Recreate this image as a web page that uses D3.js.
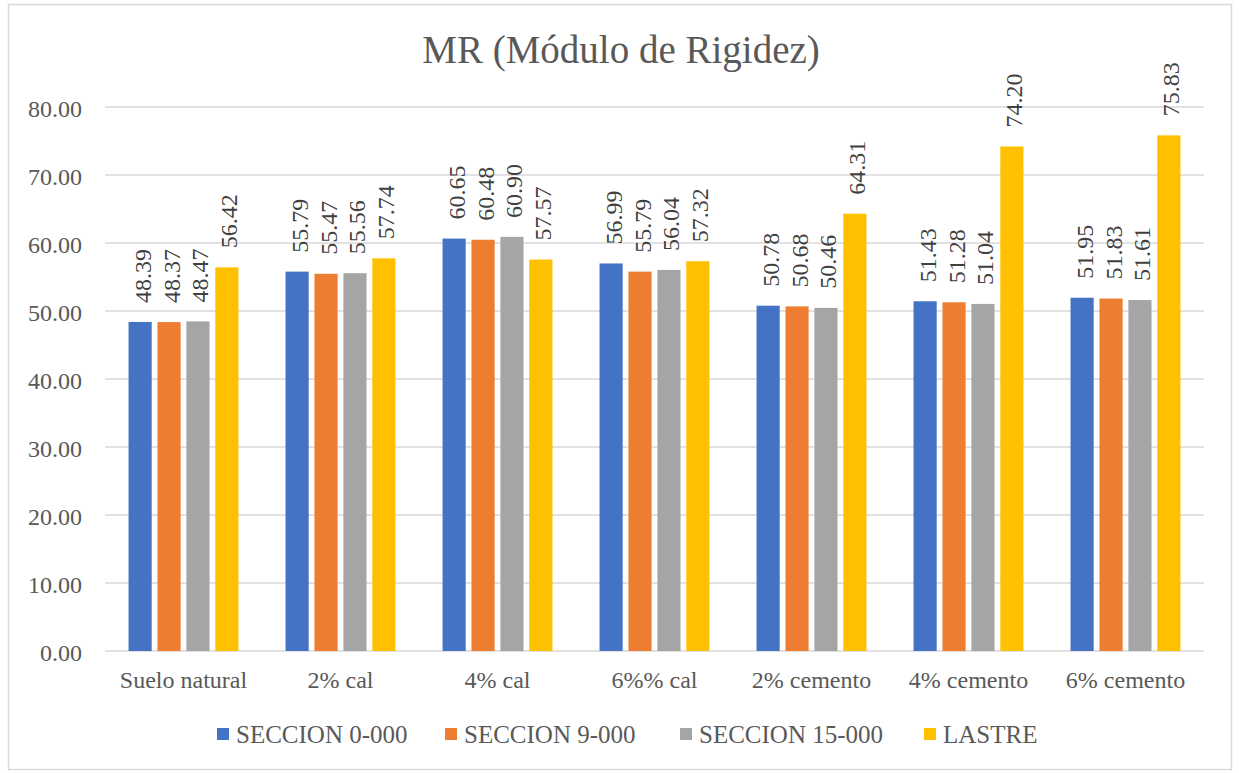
<!DOCTYPE html>
<html><head><meta charset="utf-8">
<script src="https://cdn.jsdelivr.net/npm/d3@7"></script>
<style>body{margin:0;background:#fff}svg{display:block}</style>
</head><body>
<svg id="c" width="1239" height="773"></svg>
<script>
const categories = ["Suelo natural","2% cal","4% cal","6%% cal","2% cemento","4% cemento","6% cemento"];
const seriesNames = ["SECCION 0-000","SECCION 9-000","SECCION 15-000","LASTRE"];
const seccion0 = [48.39,55.79,60.65,56.99,50.78,51.43,51.95];
const seccion9 = [48.37,55.47,60.48,55.79,50.68,51.28,51.83];
const seccion15 = [48.47,55.56,60.90,56.04,50.46,51.04,51.61];
const lastre = [56.42,57.74,57.57,57.32,64.31,74.20,75.83];
const yTicks = [0,10,20,30,40,50,60,70,80];
const colors = ["#4472C4","#ED7D31","#A5A5A5","#FFC000"];
const series = [seccion0,seccion9,seccion15,lastre];

const svg = d3.select("#c");
const font = "'Liberation Serif','Times New Roman',serif";
svg.append("rect").attr("x",8.5).attr("y",4.5).attr("width",1223).attr("height",765)
  .attr("fill","#fff").attr("stroke","#d9d9d9").attr("stroke-width",1.5);

const L=105,R=1204,T=107,B=651;
const y = d3.scaleLinear().domain([0,80]).range([B,T]);
const x0 = d3.scaleBand().domain(categories).range([L,R]).paddingInner(0.3).paddingOuter(0.15);
const x1 = d3.scaleBand().domain(d3.range(4)).range([0,x0.bandwidth()]).paddingInner(0.2);

svg.append("text").attr("x",621).attr("y",63).attr("text-anchor","middle")
  .attr("font-family",font).attr("font-size",39).attr("fill","#595959").text("MR (Módulo de Rigidez)");

const g = svg.append("g");
g.selectAll("line.grid").data(yTicks).join("line").attr("class","grid")
  .attr("x1",L).attr("x2",R).attr("y1",d=>y(d)).attr("y2",d=>y(d))
  .attr("stroke","#d9d9d9").attr("stroke-width",1.3);

const yAxis = d3.axisLeft(y).tickValues(yTicks).tickFormat(d3.format(".2f")).tickSize(0).tickPadding(23);
const ya = svg.append("g").attr("transform",`translate(${L},0)`).call(yAxis);
ya.select(".domain").remove();
ya.attr("font-family",null).attr("font-size",null);
ya.selectAll("text").attr("font-family",font).attr("font-size",24).attr("fill","#595959").attr("dy","0.38em");

const xAxis = d3.axisBottom(x0).tickSize(0).tickPadding(20);
const xa = svg.append("g").attr("transform",`translate(0,${B})`).call(xAxis);
xa.select(".domain").remove();
xa.attr("font-family",null).attr("font-size",null);
xa.selectAll("text").attr("font-family",font).attr("font-size",24).attr("fill","#595959");

series.forEach((vals,si)=>{
  const gs = svg.append("g");
  gs.selectAll("rect").data(vals).join("rect")
    .attr("x",(d,i)=>x0(categories[i])+x1(si)).attr("width",x1.bandwidth())
    .attr("y",d=>y(d)).attr("height",d=>B-y(d)).attr("fill",colors[si]);
  gs.selectAll("text").data(vals).join("text")
    .attr("transform",(d,i)=>`translate(${x0(categories[i])+x1(si)+x1.bandwidth()/2+10.5},${y(d)-19}) rotate(-90)`)
    .attr("font-family",font).attr("font-size",24).attr("fill","#404040")
    .text(d=>d.toFixed(2));
});

const legX = [217,445,680,924];
const lg = svg.append("g");
seriesNames.forEach((n,i)=>{
  lg.append("rect").attr("x",legX[i]).attr("y",728).attr("width",12).attr("height",12).attr("fill",colors[i]);
  lg.append("text").attr("x",legX[i]+19).attr("y",743).attr("font-family",font).attr("font-size",25)
    .attr("fill","#595959").text(n);
});
</script>
</body></html>
